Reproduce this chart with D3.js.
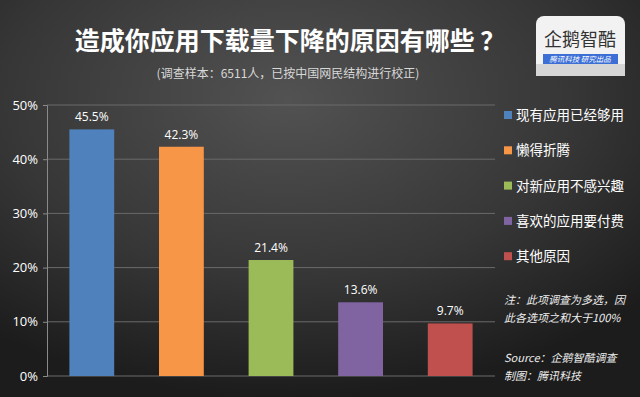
<!DOCTYPE html>
<html>
<head>
<meta charset="utf-8">
<script src="https://cdn.jsdelivr.net/npm/d3@7"></script>
<style>
  body { margin: 0; background: #2b2b2b; }
  text { font-family: "Noto Sans CJK SC", "Open Sans", sans-serif; }
</style>
</head>
<body>
<div id="chart-area"></div>
<script>
// data
let categories = ["现有应用已经够用", "懒得折腾", "对新应用不感兴趣", "喜欢的应用要付费", "其他原因"]
let values = [45.5, 42.3, 21.4, 13.6, 9.7]
let colors = ["#4f81bd", "#f79646", "#9bbb59", "#8064a2", "#c0504d"]
let yTicks = [0, 10, 20, 30, 40, 50]

let width = 640, height = 397

let svg = d3.select("#chart-area").append("svg")
            .attr("width", width)
            .attr("height", height)

// background
let defs = svg.append("defs")
let grad = defs.append("radialGradient")
               .attr("id", "bg")
               .attr("cx", "45%").attr("cy", "25%").attr("r", "75%")
grad.append("stop").attr("offset", "0%").attr("stop-color", "#525252")
grad.append("stop").attr("offset", "60%").attr("stop-color", "#363636")
grad.append("stop").attr("offset", "100%").attr("stop-color", "#1c1c1c")
svg.append("rect").attr("width", width).attr("height", height).attr("fill", "url(#bg)")

// title
svg.append("text")
   .attr("x", 290).attr("y", 50)
   .attr("text-anchor", "middle")
   .attr("fill", "#ffffff")
   .attr("font-size", 25)
   .attr("font-weight", "bold")
   .text("造成你应用下载量下降的原因有哪些 ？")

svg.append("text")
   .attr("x", 288).attr("y", 78)
   .attr("text-anchor", "middle")
   .attr("fill", "#d8d8d8")
   .attr("font-size", 12)
   .text("(调查样本：6511人，已按中国网民结构进行校正)")

// logo
let logo = svg.append("g").attr("transform", "translate(536,16)")
logo.append("rect").attr("width", 89).attr("height", 60).attr("rx", 8)
    .attr("fill", "#f2f2f2")
logo.append("rect").attr("y", 48).attr("width", 89).attr("height", 12)
    .attr("fill", "#d6d6d6")
logo.append("text").attr("x", 44).attr("y", 30).attr("text-anchor", "middle")
    .attr("fill", "#333").attr("font-size", 18).text("企鹅智酷")
logo.append("rect").attr("x", 7).attr("y", 38).attr("width", 75).attr("height", 10)
    .attr("fill", "#3b6fd6")
logo.append("text").attr("x", 44).attr("y", 46).attr("text-anchor", "middle")
    .attr("fill", "#fff").attr("font-size", 7.5).attr("font-style", "italic")
    .text("腾讯科技  研究出品")

// scales
let x = d3.scaleBand()
          .domain(categories)
          .range([47, 495])
          .paddingInner(0.5)
          .paddingOuter(0.25)

let y = d3.scaleLinear()
          .domain([0, 50])
          .range([376, 105])

// grid
svg.selectAll(".grid")
   .data(yTicks)
   .enter()
   .append("line")
   .attr("x1", 47).attr("x2", 495)
   .attr("y1", d => y(d)).attr("y2", d => y(d))
   .attr("stroke", "#6a6a6a")
   .attr("stroke-width", 1)

// y axis
let yAxis = d3.axisLeft(y)
              .tickValues(yTicks)
              .tickFormat(d => d + "%")
              .tickSize(4)
let gy = svg.append("g")
            .attr("transform", "translate(47,0)")
            .call(yAxis)
gy.select(".domain").attr("stroke", "#8a8a8a")
gy.selectAll(".tick line").attr("stroke", "#8a8a8a")
gy.selectAll(".tick text")
  .attr("fill", "#ffffff")
  .attr("font-size", 13)
  .attr("x", -9)
  .style("font-family", "'Open Sans', sans-serif")

// bars
svg.selectAll(".bar")
   .data(values)
   .enter()
   .append("rect")
   .attr("x", (d, i) => x(categories[i]))
   .attr("y", d => y(d))
   .attr("width", x.bandwidth())
   .attr("height", d => y(0) - y(d))
   .attr("fill", (d, i) => colors[i])

svg.selectAll(".val")
   .data(values)
   .enter()
   .append("text")
   .attr("x", (d, i) => x(categories[i]) + x.bandwidth() / 2)
   .attr("y", d => y(d) - 8)
   .attr("text-anchor", "middle")
   .attr("fill", "#ffffff")
   .attr("font-size", 12)
   .style("font-family", "'Open Sans', sans-serif")
   .text(d => d + "%")

// legend
let legend = svg.selectAll(".legend")
                .data(categories)
                .enter()
                .append("g")
                .attr("transform", (d, i) => "translate(504," + (115 + i * 35.3) + ")")
legend.append("rect")
      .attr("x", 0).attr("y", -4)
      .attr("width", 8).attr("height", 8)
      .attr("fill", (d, i) => colors[i])
legend.append("text")
      .attr("x", 12).attr("y", 5)
      .attr("fill", "#ffffff")
      .attr("font-size", 13.5)
      .text(d => d)

// notes
let notes = [["注：此项调查为多选，因", 304], ["此各选项之和大于100%", 322], ["Source：企鹅智酷调查", 362], ["制图：腾讯科技", 380]]
svg.selectAll(".note")
   .data(notes)
   .enter()
   .append("text")
   .attr("x", 504)
   .attr("y", d => d[1])
   .attr("fill", "#eeeeee")
   .attr("font-size", 11)
   .attr("font-style", "italic")
   .text(d => d[0])
</script>
</body>
</html>
